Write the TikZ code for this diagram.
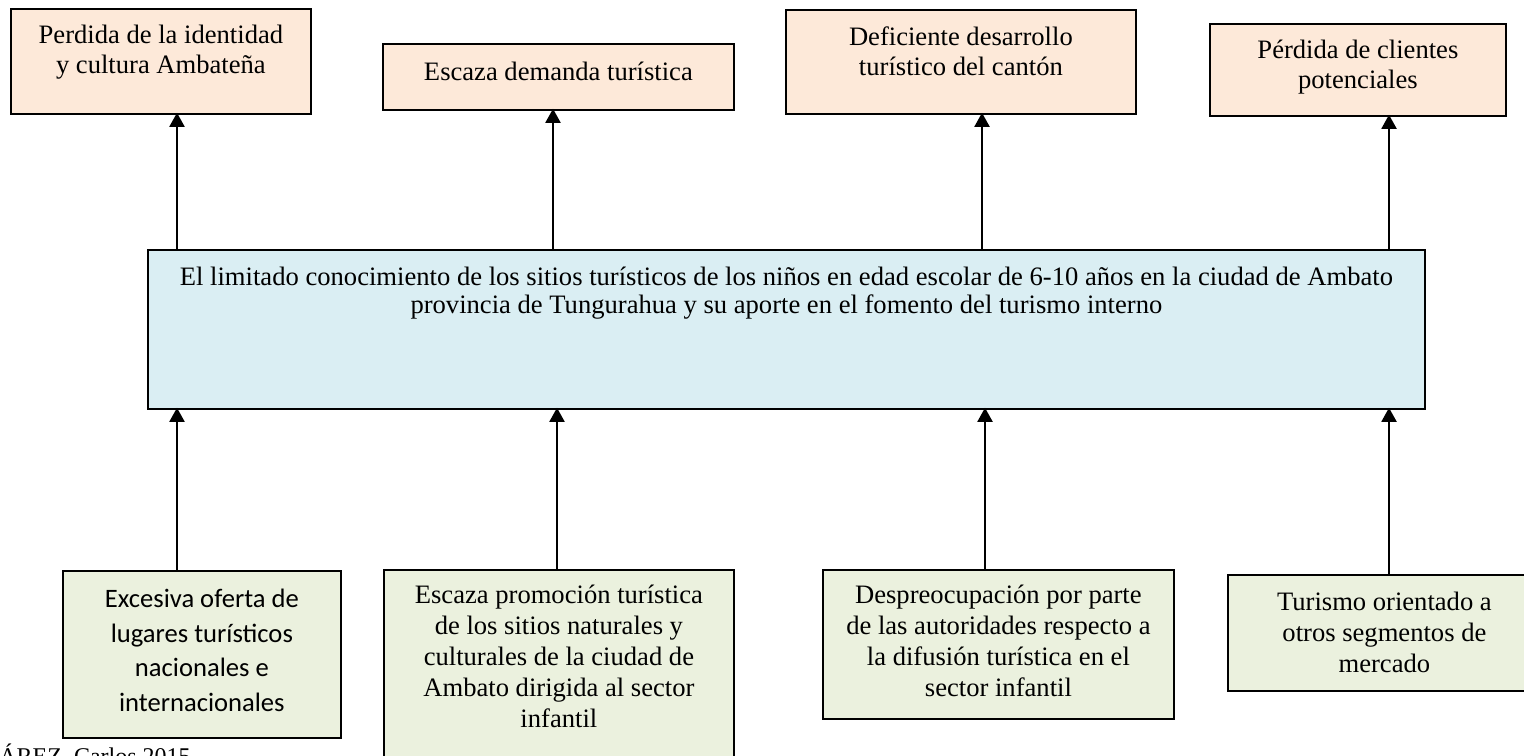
\documentclass[tikz,border=0pt]{standalone}
\usepackage{fontspec}
\setmainfont{Liberation Serif}
\newfontfamily\calib{Carlito}
\usetikzlibrary{arrows.meta}
\definecolor{peach}{HTML}{FDE9D9}
\definecolor{paleblue}{HTML}{DAEEF3}
\definecolor{palegreen}{HTML}{EBF1DE}
\newcommand\bxt[5]{\parbox[t][#2][t]{#1}{\centering\fontsize{13.3pt}{#4}\selectfont\rule{0pt}{#3}#5\par}}
\tikzset{
  bx/.style={draw=black, line width=0.9pt, anchor=north west, inner sep=0pt},
  effect/.style={bx, fill=peach},
  problem/.style={bx, fill=paleblue},
  cause/.style={bx, fill=palegreen},
  arr/.style={line width=1pt, -{Triangle[width=7.5pt,length=7pt]}, shorten >=-1pt},
}
\begin{document}
\begin{tikzpicture}[x=0.5pt,y=-0.5pt]
\useasboundingbox (0,0) rectangle (1524,755);
% effects
\node[effect] (t1) at (10,8) {\bxt{150pt}{52.5pt}{17.5pt}{15pt}{Perdida de la identidad\\y cultura Ambateña}};
\node[effect] (t2) at (382,43) {\bxt{175.5pt}{33pt}{18.5pt}{15pt}{Escaza demanda turística}};
\node[effect] (t3) at (785,9) {\bxt{175pt}{52pt}{18pt}{15pt}{Deficiente desarrollo\\turístico del cantón}};
\node[effect] (t4) at (1209,23) {\bxt{148pt}{46pt}{17.5pt}{15pt}{Pérdida de clientes\\potenciales}};
% central problem
\node[problem] (m) at (147,249) {\bxt{638.5pt}{79.5pt}{18pt}{14pt}{El limitado conocimiento de los sitios turísticos de los niños en edad escolar de 6-10 años en la ciudad de Ambato\\provincia de Tungurahua y su aporte en el fomento del turismo interno}};
% causes
\node[cause] (b1) at (62,570) {\parbox[t][83.5pt][t]{139pt}{\centering\calib\fontsize{13.3pt}{17.2pt}\selectfont\rule{0pt}{18.5pt}Excesiva oferta de\\lugares turísticos\\nacionales e\\internacionales\par}};
\node[cause] (b2) at (383,569) {\bxt{175pt}{110pt}{17pt}{15.5pt}{Escaza promoción turística\\de los sitios naturales y\\culturales de la ciudad de\\Ambato dirigida al sector\\infantil}};
\node[cause] (b3) at (822,569) {\bxt{175.5pt}{74.5pt}{17pt}{15.5pt}{Despreocupación por parte\\de las autoridades respecto a\\la difusión turística en el\\sector infantil}};
\node[cause] (b4) at (1227,574) {\bxt{156.5pt}{58pt}{18pt}{15.5pt}{Turismo orientado a\\otros segmentos de\\mercado}};
% source line (cut by the page edge)
\node[anchor=base west, inner sep=0pt, font=\fontsize{12pt}{14pt}\selectfont] (src) at (-1,764) {ÁREZ, Carlos 2015};
% arrow columns
\coordinate (u1) at (177,0);
\coordinate (u2) at (553,0);
\coordinate (u3) at (982,0);
\coordinate (u4) at (1389,0);
\coordinate (d1) at (177,0);
\coordinate (d2) at (557,0);
\coordinate (d3) at (985,0);
\coordinate (d4) at (1389,0);
\draw[arr] (m.north -| u1) -- (t1.south -| u1);
\draw[arr] (m.north -| u2) -- (t2.south -| u2);
\draw[arr] (m.north -| u3) -- (t3.south -| u3);
\draw[arr] (m.north -| u4) -- (t4.south -| u4);
\draw[arr] (b1.north -| d1) -- (m.south -| d1);
\draw[arr] (b2.north -| d2) -- (m.south -| d2);
\draw[arr] (b3.north -| d3) -- (m.south -| d3);
\draw[arr] (b4.north -| d4) -- (m.south -| d4);
\end{tikzpicture}
\end{document}
